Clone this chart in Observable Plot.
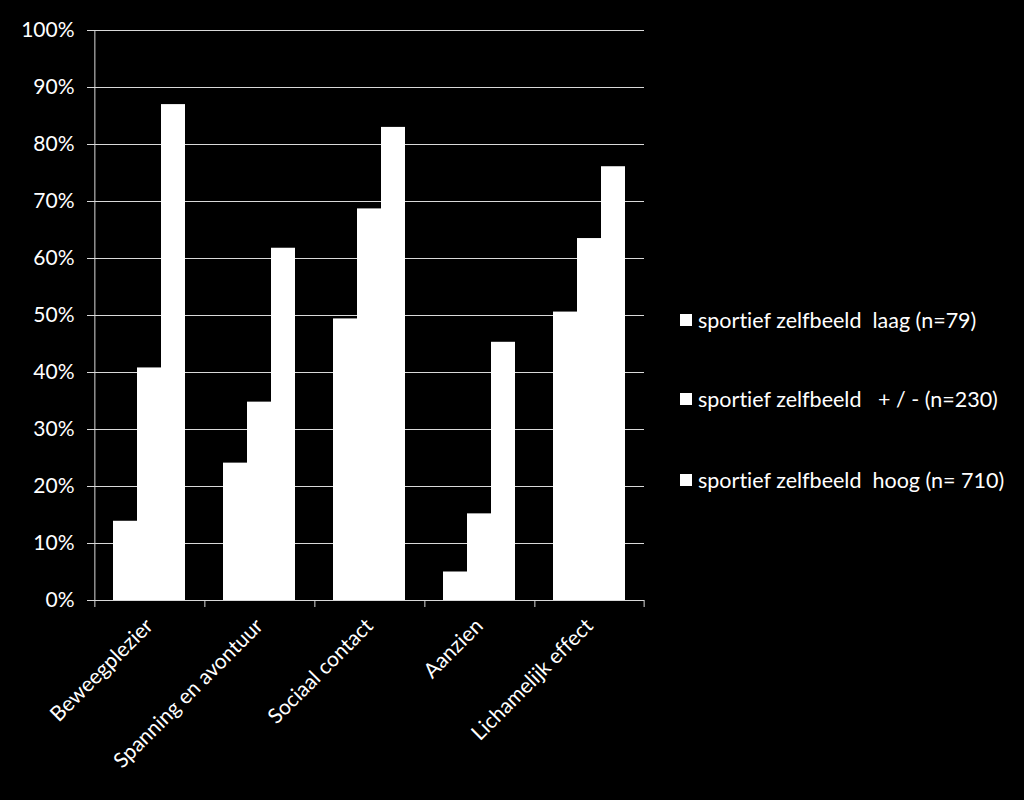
<!DOCTYPE html>
<html>
<head>
<meta charset="utf-8">
<script src="https://cdn.jsdelivr.net/npm/d3@7"></script>
<script src="https://cdn.jsdelivr.net/npm/@observablehq/plot@0.6"></script>
<style>
  html, body { margin: 0; padding: 0; background: #000; }
  #wrap { position: relative; width: 1024px; height: 800px; background: #000; overflow: hidden; }
  #wrap svg text { font-variant-ligatures: none; }
  #legend { position: absolute; left: 0; top: 0; }
  .item { position: absolute; left: 680px; height: 30px; display: flex; align-items: center;
          font-family: Lato, "Open Sans", sans-serif; font-size: 21.5px; color: #fff; white-space: pre;
          font-variant-ligatures: none; }
  .sw { width: 12px; height: 12px; background: #fff; margin-right: 6px; }
</style>
</head>
<body>
<div id="wrap"><div id="legend"></div></div>
<script>
const categories = ["Beweegplezier", "Spanning en avontuur", "Sociaal contact", "Aanzien", "Lichamelijk effect"];
const series = ["sportief zelfbeeld  laag (n=79)", "sportief zelfbeeld   + / - (n=230)", "sportief zelfbeeld  hoog (n= 710)"];
const laag   = [0.139, 0.241, 0.494, 0.05, 0.506];
const midden = [0.408, 0.348, 0.687, 0.152, 0.635];
const hoog   = [0.87, 0.618, 0.83, 0.453, 0.761];
const yTicks = [0, 0.1, 0.2, 0.3, 0.4, 0.5, 0.6, 0.7, 0.8, 0.9, 1.0];

const seriesValues = [laag, midden, hoog];
const rows = categories.flatMap((c, i) => series.map((s, j) => ({category: c, series: s, value: seriesValues[j][i]})));

const W = 1024, H = 800, mL = 92, mR = 379, mT = 30, mB = 200;
const padOuter = 0.742;
const facetW = (W - mL - mR) / categories.length;
const step = facetW / (series.length + 2 * padOuter);
const edge = (padOuter + 0.5) * step;
const plotH = H - mT - mB;
const lineColor = "#d9d9d9";

const chart = Plot.plot({
  width: W, height: H,
  marginLeft: mL, marginRight: mR, marginTop: mT, marginBottom: mB,
  style: {background: "#000", color: "#fff", fontFamily: "Lato, 'Open Sans', sans-serif", fontSize: "21px"},
  fx: {domain: categories, padding: 0, label: null},
  x: {domain: series, paddingInner: 0, paddingOuter: padOuter, axis: null},
  y: {domain: [0, 1], label: null},
  marks: [
    Plot.gridY(yTicks.filter(d => d > 0), {stroke: lineColor, strokeOpacity: 1, strokeWidth: 1}),
    Plot.barY(rows, {fx: "category", x: "series", y: "value", fill: "#fff"}),
    Plot.ruleY([0], {stroke: lineColor, strokeWidth: 1}),
    // left axis line
    Plot.ruleX([{fx: categories[0], s: series[0]}], {fx: "fx", x: "s", dx: -edge, stroke: lineColor, strokeWidth: 1}),
    // boundary tick marks below the axis
    Plot.ruleX([series[0]], {x: d => d, dx: -edge, stroke: lineColor, strokeWidth: 1, insetTop: plotH, insetBottom: -7}),
    Plot.ruleX([{fx: categories[categories.length - 1], s: series[series.length - 1]}], {fx: "fx", x: "s", dx: edge, stroke: lineColor, strokeWidth: 1, insetTop: plotH, insetBottom: -7}),
    Plot.axisY({ticks: yTicks, tickFormat: d3.format(".0%"), tickSize: 7, tickPadding: 13, stroke: lineColor, fill: "#fff", fontSize: 21, label: null}),
    Plot.axisFx({anchor: "bottom", tickRotate: -45, tickSize: 0, tickPadding: 22, fill: "#fff", fontSize: 21, label: null})
  ]
});
document.getElementById("wrap").prepend(chart);

const legendTops = [320, 399, 480];
d3.select("#legend").selectAll("div.item").data(series).join("div")
  .attr("class", "item")
  .style("top", (d, i) => (legendTops[i] - 15) + "px")
  .html(d => `<span class="sw"></span><span></span>`)
  .each(function(d) { d3.select(this).select("span:last-child").text(d); });
</script>
</body>
</html>
